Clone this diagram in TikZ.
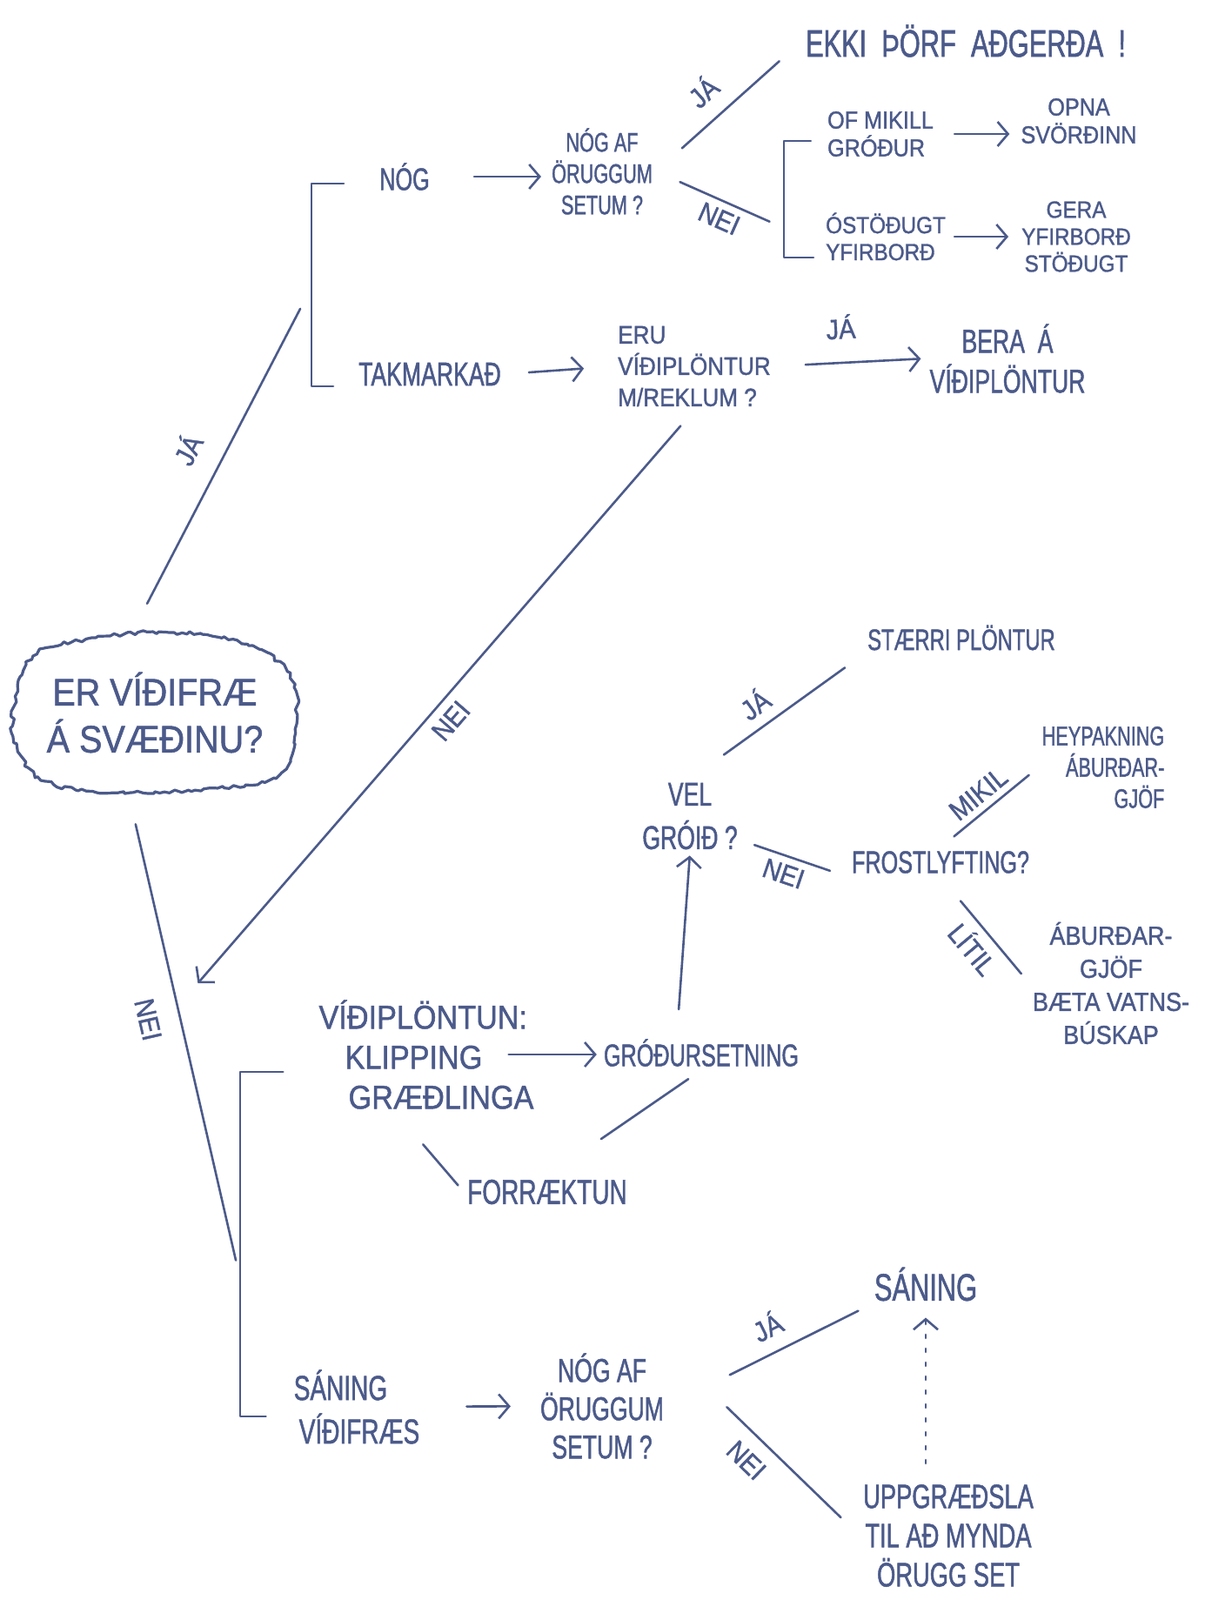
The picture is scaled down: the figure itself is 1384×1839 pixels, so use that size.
\documentclass[tikz,border=0pt]{standalone}
\usepackage{fontspec}
\setmainfont{Liberation Sans}[FakeStretch=0.7, FakeBold=1.2]
\newfontfamily\widehand{Liberation Sans}[FakeStretch=0.9, FakeBold=1.2]
\usetikzlibrary{arrows.meta,decorations.pathmorphing}
\definecolor{ink}{RGB}{75,90,138}

\begin{document}
\begin{tikzpicture}[x=1pt, y=-1pt,
  txt/.style={text=ink, font=\fontsize{36}{42}\selectfont, inner sep=4pt, align=center},
  lbl/.style={text=ink, font=\widehand\fontsize{32}{36}\selectfont, inner sep=4pt, sloped},
  wire/.style={draw=ink, line width=2.6pt, line cap=round, line join=round},
  arr/.style={wire, -{Straight Barb[length=12pt, width=28pt]}}]
  \fill[white] (0,0) rectangle (1384,1839);
  \useasboundingbox (0,0) rectangle (1384,1839);

  % The question in the cloud
  \node[txt, font=\widehand\fontsize{44}{54}\selectfont, minimum width=329pt, minimum height=188pt] (root) at (178,819) {ER VÍÐIFRÆ\\Á SVÆÐINU?};
  \draw[wire, line width=3.2pt, decorate, decoration={random steps, segment length=5pt, amplitude=2.4pt}]
    plot[smooth cycle, tension=0.7] coordinates {(16,812) (38,754) (110,733) (200,727) (278,740) (330,772) (341,832) (322,890) (250,906) (150,911) (62,902) (22,866)};

  % Upper branch
  \node[txt] (nog) at (465,203) {NÓG};
  \node[txt, font=\fontsize{38}{42}\selectfont] (takm) at (494,430) {TAKMARKAÐ};
  \coordinate (forkA) at (358,330);
  \node[txt, font=\fontsize{31}{36}\selectfont] (q1) at (692,197) {NÓG AF\\ÖRUGGUM\\SETUM ?};
  \node[txt, font=\fontsize{44}{50}\selectfont] (ekki) at (1110,47) {EKKI \ ÞÖRF \ AÐGERÐA \ !};
  \node[txt, align=left, font=\widehand\fontsize{28}{32}\selectfont] (mikill) at (1012,154) {OF MIKILL\\GRÓÐUR};
  \coordinate (forkB) at (901,262);
  \node[txt, font=\widehand\fontsize{28}{32}\selectfont] (opna) at (1240,139) {OPNA\\SVÖRÐINN};
  \node[txt, align=left, font=\widehand\fontsize{27}{31}\selectfont] (ostod) at (1018,272) {ÓSTÖÐUGT\\YFIRBORÐ};
  \node[txt, font=\widehand\fontsize{27}{31}\selectfont] (gera) at (1237,272) {GERA\\YFIRBORÐ\\STÖÐUGT};
  \node[txt, align=left, font=\widehand\fontsize{29}{36}\selectfont] (eru) at (798,421) {ERU\\VÍÐIPLÖNTUR\\M/REKLUM ?};
  \node[txt, font=\fontsize{38}{46}\selectfont] (bera) at (1158,412) {BERA \ Á\\VÍÐIPLÖNTUR};

  % Lower branch
  \node[txt, align=left, font=\widehand\fontsize{38}{46}\selectfont] (vidipl) at (490,1212) {VÍÐIPLÖNTUN:\\\hspace*{30pt}KLIPPING\\\hspace*{34pt}GRÆÐLINGA};
  \node[txt] (grodur) at (806,1210) {GRÓÐURSETNING};
  \node[txt, font=\fontsize{40}{46}\selectfont] (forr) at (629,1370) {FORRÆKTUN};
  \node[txt, font=\fontsize{38}{50}\selectfont] (vel) at (793,938) {VEL\\GRÓIÐ ?};
  \node[txt, font=\fontsize{34}{40}\selectfont] (staerri) at (1105,733) {STÆRRI PLÖNTUR};
  \node[txt] (frost) at (1081,991) {FROSTLYFTING?};
  \node[txt, align=right, font=\fontsize{31}{36}\selectfont] (hey) at (1268,882) {HEYPAKNING\\ÁBURÐAR-\\GJÖF};
  \node[txt, font=\widehand\fontsize{30}{38}\selectfont] (abur) at (1277,1130) {ÁBURÐAR-\\GJÖF\\BÆTA VATNS-\\BÚSKAP};
  \node[txt, align=left, font=\fontsize{40}{50}\selectfont] (saning) at (410,1617) {SÁNING\\\hspace*{6pt}VÍÐIFRÆS};
  \coordinate (forkC) at (276,1470);
  \node[txt, font=\fontsize{38}{44}\selectfont] (q3) at (692,1616) {NÓG AF\\ÖRUGGUM\\SETUM ?};
  \node[txt, font=\fontsize{44}{50}\selectfont] (saning2) at (1064,1476) {SÁNING};
  \node[txt, font=\fontsize{39}{45}\selectfont] (uppgr) at (1090,1765) {UPPGRÆÐSLA\\TIL AÐ MYNDA\\ÖRUGG SET};

  % Connections from the root
  \draw[wire, shorten <=35pt, shorten >=28pt] ([xshift=-25pt]root.north) -- (forkA) node[lbl, pos=0.48, above=22pt] {JÁ};
  \draw[wire, shorten <=35pt, shorten >=22pt] ([xshift=-30pt]root.south) -- (forkC) node[lbl, pos=0.45, below=20pt] {NEI};
  \draw[wire, shorten <=37pt, shorten >=25pt] ([yshift=-8pt]nog.west) -| (forkA) |- ([yshift=-14pt]takm.west);
  \draw[wire, shorten <=37pt, shorten >=28pt] ([yshift=-20pt]vidipl.west) -| (forkC) |- ([yshift=-11pt]saning.west);

  % Enough seed
  \draw[arr, shorten <=47pt, shorten >=8pt] (nog.east) -- (nog.east -| q1.west);
  \draw[wire, shorten <=40pt, shorten >=35pt] (q1.east) -- (ekki.west) node[lbl, pos=0.45, above=14pt] {JÁ};
  \draw[wire, shorten <=30pt, shorten >=18pt] (q1.east) -- (forkB) node[lbl, pos=0.55, below=4pt] {NEI};
  \draw[wire, shorten <=15pt, shorten >=10pt] ([yshift=-8pt]mikill.west) -| (forkB) |- ([yshift=-24pt]ostod.west);
  \draw[arr, shorten <=20pt, shorten >=9pt] (mikill.east) -- (mikill.east -| opna.west);
  \draw[arr, shorten <=6pt, shorten >=11pt] (ostod.east) -- (ostod.east -| gera.west);

  % Limited seed
  \draw[arr, shorten <=28pt, shorten >=35pt] (takm.east) -- (eru.west);
  \draw[arr, shorten <=36pt, shorten >=6pt] (eru.east) -- (bera.west) node[lbl, pos=0.45, above=22pt] {JÁ};
  \draw[arr, shorten <=24pt] (eru.south) -- ([xshift=-135pt, yshift=15pt]vidipl.north west) node[lbl, pos=0.52, below=6pt] {NEI};

  % Planting of willows
  \draw[arr, shorten <=-33pt, shorten >=4pt] (vidipl.east) -- (vidipl.east -| grodur.west);
  \draw[wire, shorten <=48pt, shorten >=10pt] ([xshift=-35pt]vidipl.south) -- (forr.west);
  \draw[wire, shorten <=75pt, shorten >=18pt] (forr.north) -- (grodur.south);
  \draw[arr, shorten <=30pt, shorten >=3pt] ([xshift=-28pt]grodur.north) -- (vel.south);
  \draw[wire, shorten <=48pt, shorten >=27pt] (vel.north) -- (staerri.south west) node[lbl, pos=0.45, above=8pt] {JÁ};
  \draw[wire, shorten <=16pt, shorten >=22pt] ([yshift=-28pt]vel.east) -- (frost.south west) node[lbl, pos=0.45, below=4pt] {NEI};
  \draw[wire, shorten <=20pt, shorten >=14pt] (frost.north) -- (hey.west) node[lbl, pos=0.5, above=4pt] {MIKIL};
  \draw[wire, shorten <=36pt, shorten >=14pt] (frost.south) -- (abur.west) node[lbl, pos=0.55, below=4pt] {LÍTIL};

  % Sowing of willow seed
  \draw[arr, shorten <=50pt, shorten >=30pt] (saning) -- (q3);
  \draw[wire, shorten <=80pt, shorten >=16pt] (q3.east) -- (saning2.south west) node[lbl, pos=0.55, above=12pt] {JÁ};
  \draw[wire, shorten <=95pt, shorten >=30pt] (q3.north east) -- (uppgr.west) node[lbl, pos=0.5, below=12pt] {NEI};
  \draw[arr, dash pattern=on 4pt off 12pt, shorten <=20pt, shorten >=15pt] (uppgr.north -| saning2.south) -- (saning2.south);
\end{tikzpicture}
\end{document}
